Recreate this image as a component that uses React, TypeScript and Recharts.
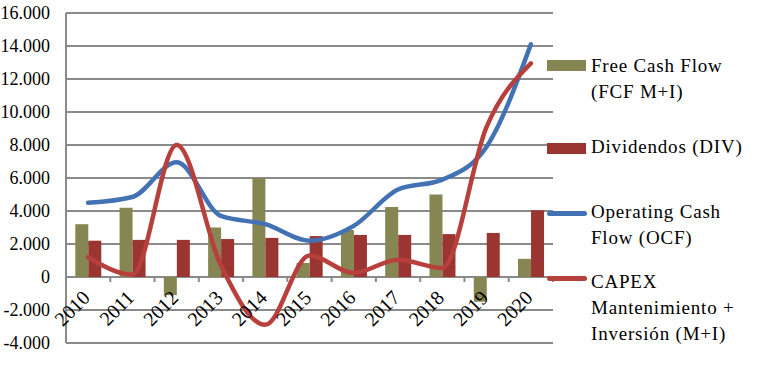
import React from 'react';
import {
  ComposedChart,
  Bar,
  Line,
  XAxis,
  YAxis,
  CartesianGrid,
} from 'recharts';

const years = ['2010', '2011', '2012', '2013', '2014', '2015', '2016', '2017', '2018', '2019', '2020'];
const fcf = [3200, 4200, -1100, 3000, 6000, 850, 2850, 4250, 5000, -1500, 1100];
const dividendos = [2200, 2250, 2250, 2300, 2370, 2480, 2550, 2550, 2600, 2670, 4050];
const ocf = [4500, 4850, 6950, 3700, 3200, 2200, 3100, 5300, 5900, 7900, 14100];
const capex = [1200, 150, 8000, 700, -2900, 1300, 250, 1050, 550, 9100, 12950];
const yTicks = [-4000, -2000, 0, 2000, 4000, 6000, 8000, 10000, 12000, 14000, 16000];

const data = years.map((year, i) => ({
  year,
  fcf: fcf[i],
  div: dividendos[i],
  ocf: ocf[i],
  capex: capex[i],
}));

const W = 757;
const H = 369;
const M = { top: 13, right: 204, left: 0, bottom: 25 };
const Y_AXIS_W = 66;
const PLOT_W = W - M.left - M.right - Y_AXIS_W;
const PLOT_H = H - M.top - M.bottom - 1;
const BAND = PLOT_W / years.length;
const ZERO_Y = M.top + (PLOT_H * 16000) / 20000;

const FONT = '"Liberation Serif", serif';
const GRID = '#8a8a8a';
const GREEN = '#868653';
const DARKRED = '#9b3532';
const BLUE = '#4272b4';
const RED = '#b7403d';

const fmt = (v: number) => {
  if (v === 0) return '0';
  const s = Math.abs(v).toString().replace(/\B(?=(\d{3})+(?!\d))/g, '.');
  return (v < 0 ? '-' : '') + s;
};

function YearTick(props: any) {
  const { x, payload, index } = props;
  const left = x - BAND / 2;
  const ax = x + 3;
  const ay = ZERO_Y + 22;
  return (
    <g>
      <line x1={left} y1={ZERO_Y} x2={left} y2={ZERO_Y + 5} stroke={GRID} strokeWidth={2} />
      {index === years.length - 1 && (
        <line x1={x + BAND / 2} y1={ZERO_Y} x2={x + BAND / 2} y2={ZERO_Y + 5} stroke={GRID} strokeWidth={2} />
      )}
      <text
        x={ax}
        y={ay}
        transform={`rotate(-45 ${ax} ${ay})`}
        textAnchor="end"
        fontFamily={FONT}
        fontSize={20}
        fill="#000"
      >
        {payload.value}
      </text>
    </g>
  );
}

const legendText: React.CSSProperties = {
  position: 'absolute',
  left: 44,
  fontFamily: FONT,
  fontSize: 19,
  letterSpacing: 0.8,
  lineHeight: '26px',
  color: '#000',
  whiteSpace: 'nowrap',
};

function SideLegend() {
  return (
    <div style={{ position: 'absolute', left: 547, top: 0, width: 210, height: 369 }}>
      <div style={{ position: 'absolute', left: 0, top: 60, width: 39, height: 11, background: GREEN }} />
      <div style={{ ...legendText, top: 53 }}>
        Free Cash Flow
        <br />
        (FCF M+I)
      </div>
      <div style={{ position: 'absolute', left: 0, top: 143, width: 39, height: 11, background: DARKRED }} />
      <div style={{ ...legendText, top: 134 }}>Dividendos (DIV)</div>
      <div style={{ position: 'absolute', left: 0, top: 211, width: 40, height: 4.5, borderRadius: 3, background: BLUE }} />
      <div style={{ ...legendText, top: 199 }}>
        Operating Cash
        <br />
        Flow (OCF)
      </div>
      <div style={{ position: 'absolute', left: 0, top: 276, width: 40, height: 4.5, borderRadius: 3, background: RED }} />
      <div style={{ ...legendText, top: 269 }}>
        CAPEX
        <br />
        Mantenimiento +
        <br />
        Inversión (M+I)
      </div>
    </div>
  );
}

export default function App() {
  return (
    <div style={{ position: 'relative', width: W, height: H }}>
      <style>{'body{margin:0}'}</style>
      <ComposedChart width={W} height={H} data={data} margin={M} barCategoryGap="21%" barGap={0}>
        <CartesianGrid vertical={false} stroke={GRID} strokeWidth={2} />
        <YAxis
          width={Y_AXIS_W}
          domain={[-4000, 16000]}
          ticks={yTicks}
          interval={0}
          tickFormatter={fmt}
          axisLine={{ stroke: GRID, strokeWidth: 2 }}
          tickLine={false}
          tickSize={6}
          tickMargin={10}
          tick={{ fontFamily: FONT, fontSize: 18, fill: '#000' }}
        />
        <XAxis
          dataKey="year"
          height={1}
          axisLine={false}
          tickLine={false}
          interval={0}
          tick={<YearTick />}
        />
        <Bar dataKey="fcf" fill={GREEN} isAnimationActive={false} />
        <Bar dataKey="div" fill={DARKRED} isAnimationActive={false} />
        <Line type="monotone" dataKey="ocf" stroke={BLUE} strokeWidth={4.5} strokeLinecap="round" dot={false} isAnimationActive={false} />
        <Line type="monotone" dataKey="capex" stroke={RED} strokeWidth={4.5} strokeLinecap="round" dot={false} isAnimationActive={false} />
      </ComposedChart>
      <SideLegend />
    </div>
  );
}
